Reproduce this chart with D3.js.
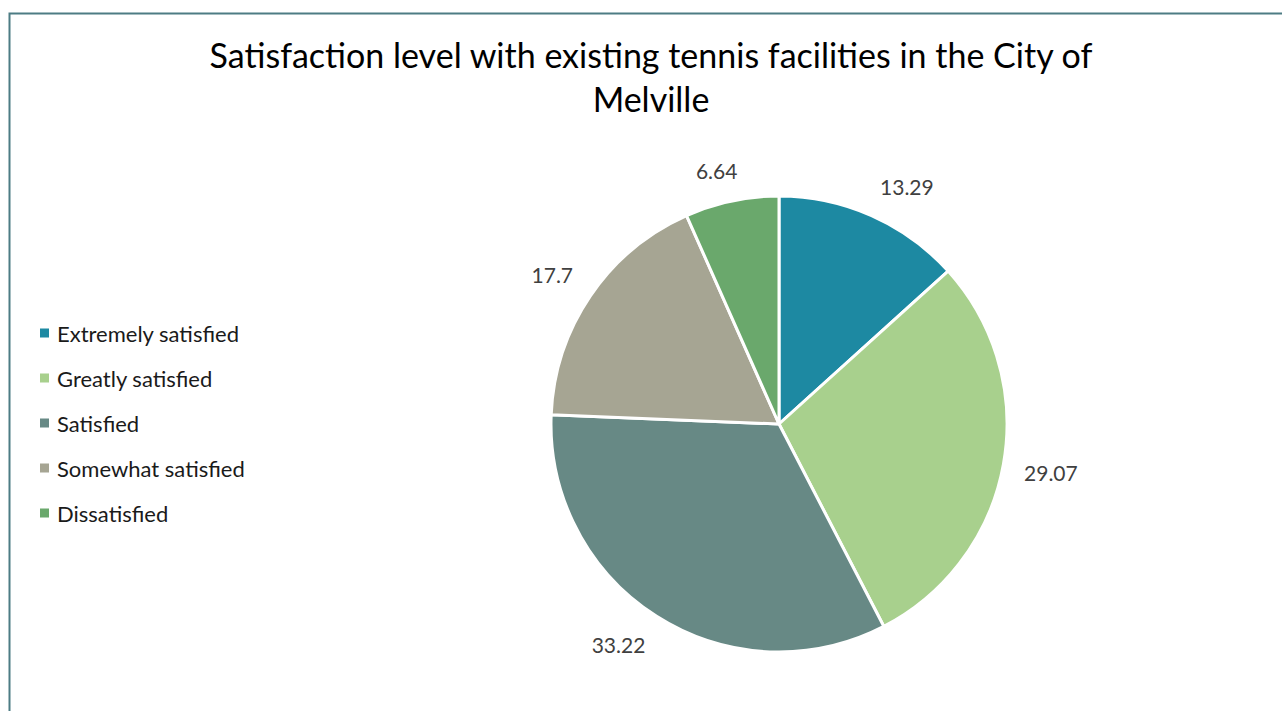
<!DOCTYPE html>
<html>
<head>
<meta charset="utf-8">
<script src="https://cdn.jsdelivr.net/npm/d3@7"></script>
<style>
  html, body { margin: 0; padding: 0; background: #ffffff; }
  svg { display: block; }
  text { font-family: Lato, "Open Sans", sans-serif; }
</style>
</head>
<body>
<svg id="chart" width="1282" height="711"></svg>
<script>
// Survey responses (percent of respondents)
const categories = ["Extremely satisfied", "Greatly satisfied", "Satisfied", "Somewhat satisfied", "Dissatisfied"];
const values = [13.29, 29.07, 33.22, 17.7, 6.64];
const valueLabels = ["13.29", "29.07", "33.22", "17.7", "6.64"];
const colors = ["#1d89a2", "#a8d08d", "#678985", "#a6a593", "#6aa86c"];
const titleLines = ["Satisfaction level with existing tennis facilities in the City of", "Melville"];

const width = 1282, height = 711;
const svg = d3.select("#chart");

// outer chart frame (runs off the right and bottom edges)
svg.append("rect")
  .attr("x", 9.5).attr("y", 13.5)
  .attr("width", width + 20).attr("height", height + 20)
  .attr("fill", "#ffffff")
  .attr("stroke", "#4d7c84").attr("stroke-width", 2);

// title
const title = svg.append("text")
  .attr("text-anchor", "middle")
  .attr("font-size", 34)
  .attr("fill", "#000000");
titleLines.forEach((line, i) => {
  title.append("tspan")
    .attr("x", 651)
    .attr("y", 68 + i * 44)
    .text(line);
});

// pie
const cx = 779, cy = 424, radius = 228;
const color = d3.scaleOrdinal().domain(categories).range(colors);

const pie = d3.pie().sort(null).value(d => d.value);
const data = categories.map((c, i) => ({ name: c, value: values[i], label: valueLabels[i] }));
const arcs = pie(data);
const arc = d3.arc().innerRadius(0).outerRadius(radius);

const g = svg.append("g").attr("transform", `translate(${cx},${cy})`);
g.selectAll("path.slice")
  .data(arcs)
  .join("path")
  .attr("class", "slice")
  .attr("d", arc)
  .attr("fill", d => color(d.data.name))
  .attr("stroke", "#ffffff")
  .attr("stroke-width", 3)
  .attr("stroke-linejoin", "round");

// data labels, placed just outside each slice
const labelGap = 21;
const labels = g.selectAll("text.value")
  .data(arcs)
  .join("text")
  .attr("class", "value")
  .attr("font-size", 21)
  .attr("fill", "#404040")
  .attr("text-anchor", "middle")
  .attr("dominant-baseline", "central")
  .text(d => d.data.label);

labels.each(function (d) {
  const a = (d.startAngle + d.endAngle) / 2;
  const s = Math.sin(a), c = Math.cos(a);
  const px = s * (radius + labelGap), py = -c * (radius + labelGap);
  const w = this.getComputedTextLength(), h = 20;
  const clamp = v => Math.max(-1, Math.min(1, v * 2.5));
  d3.select(this)
    .attr("x", px + clamp(s) * w / 2)
    .attr("y", py - clamp(c) * h / 2);
});

// legend
const legend = svg.append("g").attr("transform", "translate(40,333)");
const rows = legend.selectAll("g")
  .data(categories)
  .join("g")
  .attr("transform", (d, i) => `translate(0,${i * 45})`);
rows.append("rect")
  .attr("x", 0).attr("y", -4.5)
  .attr("width", 9).attr("height", 9)
  .attr("fill", d => color(d));
rows.append("text")
  .attr("x", 17).attr("y", 0)
  .attr("dominant-baseline", "central")
  .attr("font-size", 22)
  .attr("fill", "#1a1a1a")
  .text(d => d);
</script>
</body>
</html>
